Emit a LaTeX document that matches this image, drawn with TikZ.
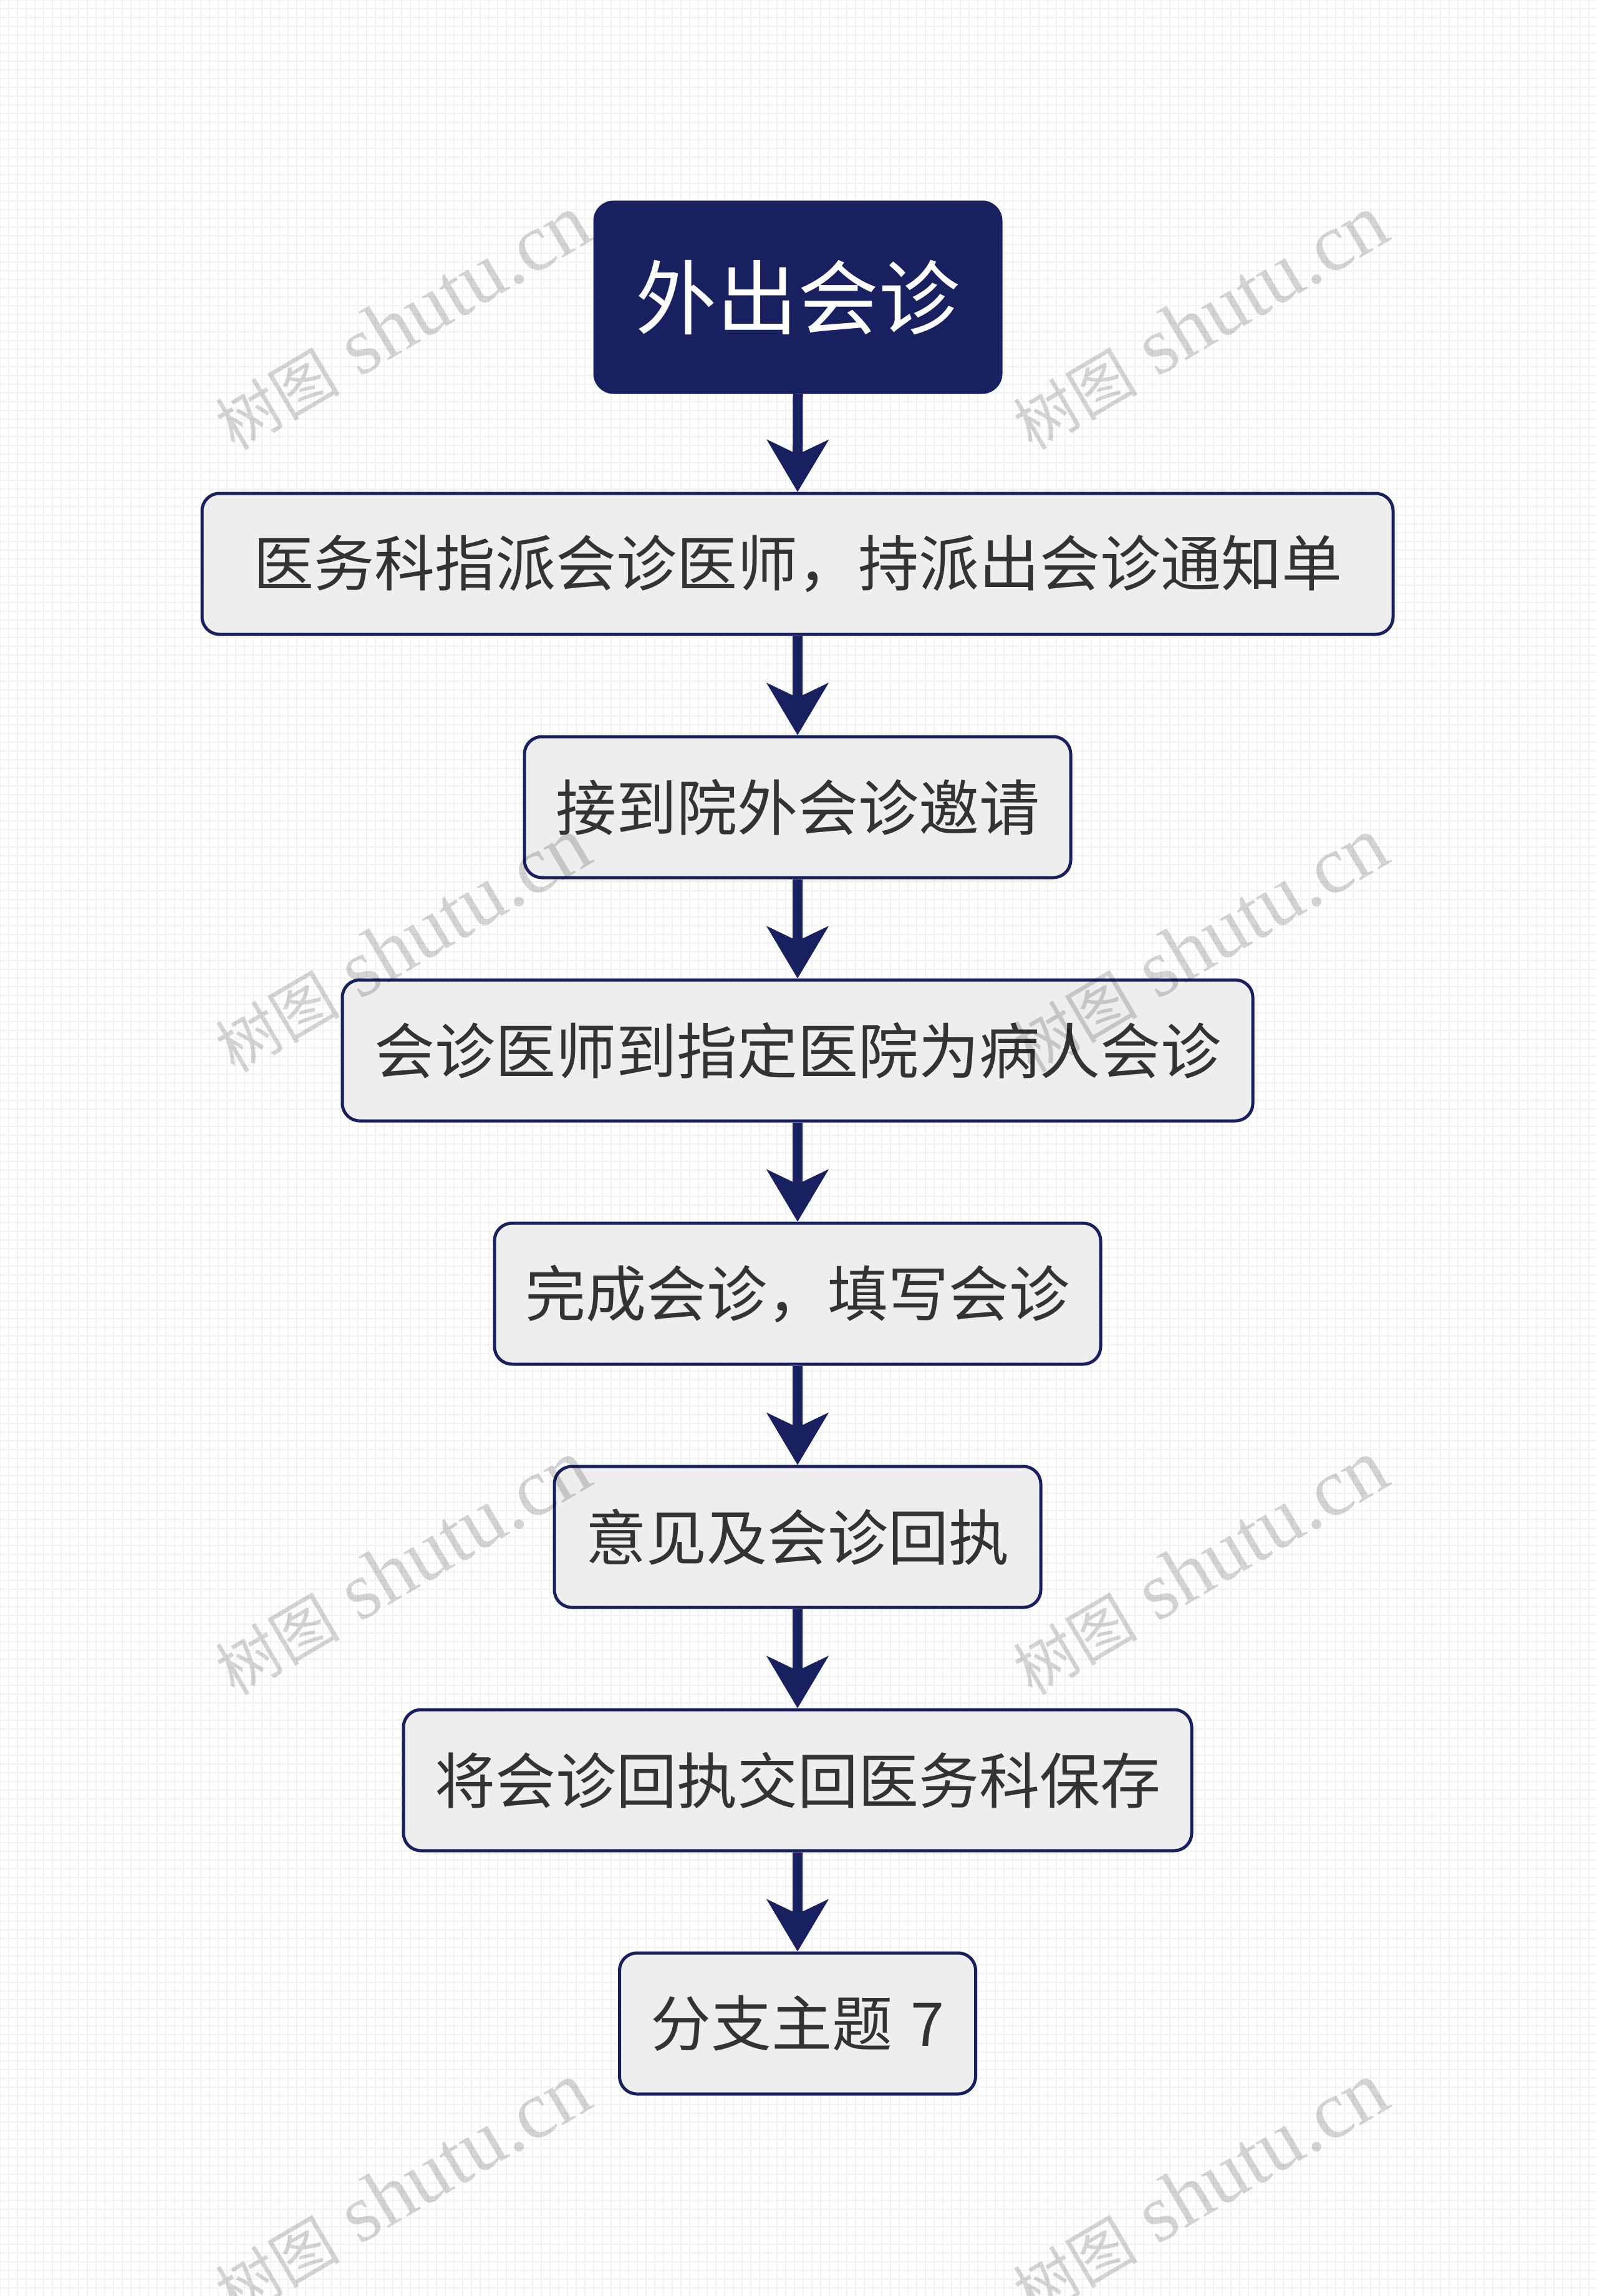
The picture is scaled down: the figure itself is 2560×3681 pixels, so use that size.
\documentclass[tikz,border=0pt]{standalone}
\usepackage{fontspec}
\newfontfamily\cjk{Noto Sans CJK SC}
\newfontfamily\wmlat{Liberation Serif}
\usetikzlibrary{arrows.meta}
\definecolor{navy}{HTML}{18205F}
\definecolor{boxfill}{HTML}{EEEEEE}
\definecolor{txt}{HTML}{333333}
\definecolor{gridc}{HTML}{F2F2F2}
\newcommand{\wmtext}{{\cjk\fontsize{100pt}{100pt}\selectfont 树图} shutu.cn}
\tikzset{
  topbox/.style={draw=navy, fill=navy, line width=5pt, rounded corners=30pt,
    minimum width=651pt, minimum height=305pt, inner sep=0pt,
    text=white, font=\cjk\fontsize{130pt}{130pt}\selectfont},
  stepbox/.style={draw=navy, fill=boxfill, line width=5pt, rounded corners=28pt,
    minimum height=226pt, inner sep=0pt,
    text=txt, font=\cjk\fontsize{97pt}{97pt}\selectfont},
  flow/.style={draw=navy, line width=16pt,
    -{Stealth[length=84pt, width=100pt, inset=24pt, line width=0.5pt]}},
  wm/.style={rotate=30.5, text=black, text opacity=0.17, inner sep=0pt,
    font=\wmlat\fontsize{131pt}{131pt}\selectfont}
}
\begin{document}
\begin{tikzpicture}[x=1pt, y=-1pt]
  \useasboundingbox (0,0) rectangle (2560,3681);
  \fill[white] (0,0) rectangle (2560,3681);
  \foreach \gx in {0,14,...,2560} {\draw[gridc, line width=1.3pt] (\gx,0) -- (\gx,3681);}
  \foreach \gy in {0,14,...,3681} {\draw[gridc, line width=1.3pt] (0,\gy) -- (2560,\gy);}

  \node[topbox] (top) at (1279.5,476.5) {外出会诊};
  \node[stepbox, minimum width=1910pt] (b1) at (1279,904) {医务科指派会诊医师，持派出会诊通知单};
  \node[stepbox, minimum width=876pt] (b2) at (1279,1294) {接到院外会诊邀请};
  \node[stepbox, minimum width=1460pt] (b3) at (1279,1684) {会诊医师到指定医院为病人会诊};
  \node[stepbox, minimum width=972pt] (b4) at (1279,2074) {完成会诊，填写会诊};
  \node[stepbox, minimum width=780pt] (b5) at (1279,2464) {意见及会诊回执};
  \node[stepbox, minimum width=1264pt] (b6) at (1279,2854) {将会诊回执交回医务科保存};
  \node[stepbox, minimum width=571pt] (b7) at (1279,3244) {分支主题\hspace{0.3em}7};

  \draw[flow] (top.south) -- (b1.north);
  \draw[flow] (b1.south) -- (b2.north);
  \draw[flow] (b2.south) -- (b3.north);
  \draw[flow] (b3.south) -- (b4.north);
  \draw[flow] (b4.south) -- (b5.north);
  \draw[flow] (b5.south) -- (b6.north);
  \draw[flow] (b6.south) -- (b7.north);

  \node[wm] (w1) at (645,517) {\wmtext};
  \node[wm] (w2) at (1924,517) {\wmtext};
  \node[wm] (w3) at (645,1515) {\wmtext};
  \node[wm] (w4) at (1924,1515) {\wmtext};
  \node[wm] (w5) at (645,2513) {\wmtext};
  \node[wm] (w6) at (1924,2513) {\wmtext};
  \node[wm] (w7) at (645,3511) {\wmtext};
  \node[wm] (w8) at (1924,3511) {\wmtext};
\end{tikzpicture}
\end{document}
